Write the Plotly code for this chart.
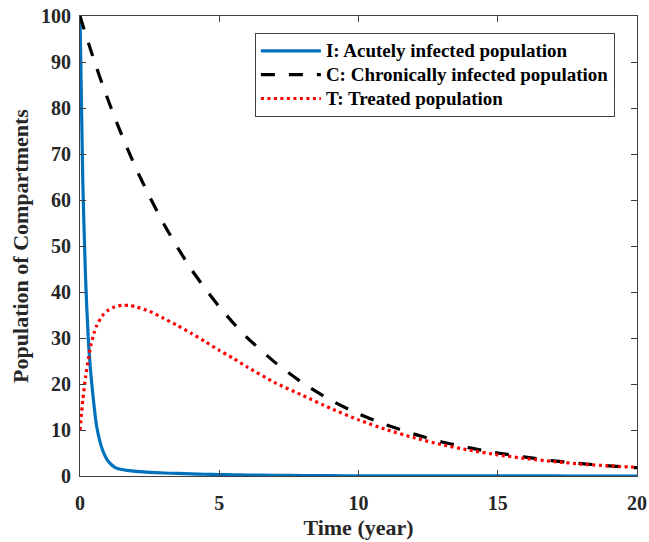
import plotly.graph_objects as go

t = [0, 0.1, 0.2, 0.3, 0.4, 0.5, 0.6, 0.8, 1.0, 1.25, 1.5, 1.75, 2, 2.5, 3, 3.5, 4, 4.5, 5, 5.5,
     6, 7, 8, 9, 10, 11, 12, 13, 14, 15, 16, 17, 18, 19, 20]
I_vals = [100, 64, 43, 29.5, 21.5, 15.5, 10.7, 5.8, 3.3, 1.9, 1.4, 1.15, 1.0, 0.8, 0.65, 0.55, 0.45,
          0.38, 0.3, 0.27, 0.22, 0.15, 0.1, 0.07, 0.05, 0.04, 0.03, 0.02, 0.02, 0.01, 0.01, 0.01, 0.0, 0.0, 0.0]
C_vals = [100, 98.0, 96.1, 94.2, 92.3, 90.5, 88.7, 85.2, 81.9, 77.9, 74.1, 70.5, 67.0, 60.7, 54.9,
          49.7, 44.9, 40.7, 36.8, 33.3, 30.1, 24.7, 20.2, 16.5, 13.5, 11.1, 9.1, 7.4, 6.1, 5.0, 4.1,
          3.3, 2.7, 2.2, 1.8]
T_vals = [10, 16.5, 21.5, 25.5, 28.7, 31.0, 32.7, 34.8, 36.0, 36.8, 37.1, 37.1, 36.8, 35.8, 34.3,
          32.7, 31.0, 29.2, 27.3, 25.6, 23.7, 20.3, 17.5, 14.7, 12.2, 10.1, 8.3, 6.8, 5.6, 4.6, 3.8,
          3.15, 2.6, 2.2, 1.9]
series_names = ["I: Acutely infected population",
                "C: Chronically infected population",
                "T: Treated population"]

x_ticks = [0, 5, 10, 15, 20]
y_ticks = list(range(0, 101, 10))

font_family = "Liberation Serif"
axis_col = "#404040"


def legend_label(s):
    return f'<span style="font-size:19px"><b>{s}</b></span>'


fig = go.Figure()
fig.add_trace(go.Scatter(x=t, y=I_vals, mode="lines", name=legend_label(series_names[0]),
                         line=dict(color="#0072BD", width=3.2, shape="spline", smoothing=0.6)))
fig.add_trace(go.Scatter(x=t, y=C_vals, mode="lines", name=legend_label(series_names[1]),
                         line=dict(color="black", width=3.2, dash="14px,14px", shape="spline", smoothing=0.6)))
fig.add_trace(go.Scatter(x=t, y=T_vals, mode="lines", name=legend_label(series_names[2]),
                         line=dict(color="#FF0000", width=3.2, dash="3px,3.5px", shape="spline", smoothing=0.6)))

fig.update_layout(
    width=649, height=542,
    margin=dict(l=80, r=12, t=16, b=66),
    paper_bgcolor="white", plot_bgcolor="white",
    font=dict(family=font_family, size=20, color="#262626"),
    showlegend=True,
    legend=dict(x=0.314, y=0.963, xanchor="left", yanchor="top",
                bgcolor="white", bordercolor=axis_col, borderwidth=1,
                font=dict(family=font_family, size=16, color="black"),
                itemwidth=60, tracegroupgap=0),
    xaxis=dict(range=[0, 20], tickvals=x_ticks, ticktext=[f"<b>{v}</b>" for v in x_ticks],
               ticks="inside", ticklen=6, tickcolor=axis_col, showline=True, linecolor=axis_col,
               linewidth=1, mirror="ticks", showgrid=False, zeroline=False, automargin=False,
               ticklabelstandoff=9, tickfont=dict(size=20, family=font_family, color="#262626"),
               title=dict(text="<b>Time (year)</b>", font=dict(size=22, family=font_family), standoff=6)),
    yaxis=dict(range=[0, 100], tickvals=y_ticks, ticktext=[f"<b>{v}</b>" for v in y_ticks],
               ticks="inside", ticklen=6, tickcolor=axis_col, showline=True, linecolor=axis_col,
               linewidth=1, mirror="ticks", showgrid=False, zeroline=False, automargin=False,
               ticklabelstandoff=4, tickfont=dict(size=20, family=font_family, color="#262626"),
               title=dict(text="<b>Population of Compartments</b>", font=dict(size=22, family=font_family), standoff=6)),
)

fig.write_html("out.html", post_script="document.body.style.margin='0';",
               config={"displayModeBar": False})
